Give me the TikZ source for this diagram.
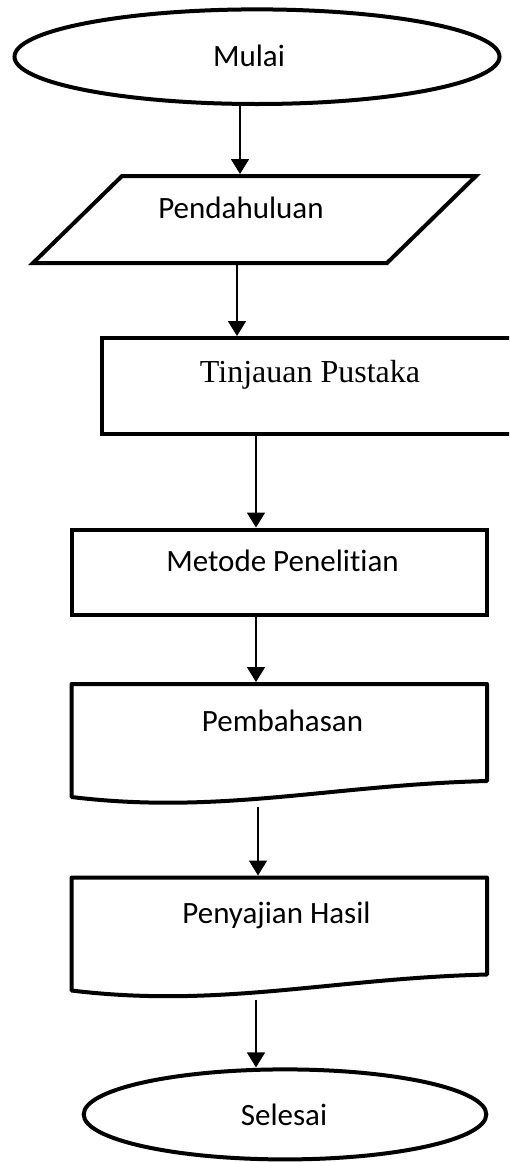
\documentclass[tikz,border=0pt]{standalone}
\usepackage{fontspec}
\setmainfont{Carlito}[Ligatures=NoCommon]
\newfontfamily\timesfont{Liberation Serif}
\usepackage{tikz}
\usetikzlibrary{arrows.meta, shapes.geometric}

\begin{document}
\begin{tikzpicture}[x=1pt, y=-1pt, >={Triangle[length=15pt, width=18pt]},
    term/.style={draw, ellipse, line width=4pt, inner sep=0pt},
    box/.style={draw, rectangle, line width=4pt, inner sep=0pt},
    io/.style={draw, line width=4pt},
    docu/.style={draw, line width=4pt, line join=round},
    flow/.style={->, line width=1.8pt},
    lbl/.style={anchor=base, inner sep=0pt, font=\fontsize{31}{37}\selectfont}]
  \useasboundingbox (0,0) rectangle (509,1162);
  \clip (0,0) rectangle (509,1162);

  % Start
  \node[term, minimum width=485pt, minimum height=94.6pt] (mulai) at (257,56.7) {};
  \node[lbl] (mulai-t) at (249,66) {Mulai};

  % Input
  \draw[io] (122,176) -- (476,176) -- (387,263) -- (33,263) -- cycle;
  \coordinate (pend-in) at (240,174);
  \coordinate (pend-out) at (237,265);
  \node[lbl] (pendahuluan-t) at (241,218) {Pendahuluan};

  % Process boxes
  \node[box, minimum width=438pt, minimum height=95.5pt] (tinjauan) at (321,385.75) {};
  \node[lbl, font=\timesfont\fontsize{32}{38}\selectfont] (tinjauan-t) at (310,382) {Tinjauan Pustaka};

  \node[box, minimum width=415.5pt, minimum height=85pt] (metode) at (279.25,572) {};
  \node[lbl] (metode-t) at (282.5,571) {Metode Penelitian};

  % Documents
  \draw[docu] (71.5,797) -- (71.5,684) -- (487,684) -- (487,781)
    .. controls (330,785) and (220,815) .. (71.5,797) -- cycle;
  \coordinate (bahas-in) at (256,682);
  \coordinate (bahas-out) at (258,807);
  \node[lbl] (pembahasan-t) at (282.5,731) {Pembahasan};

  \draw[docu] (71.5,990.5) -- (71.5,877.5) -- (487,877.5) -- (487,974.5)
    .. controls (330,978.5) and (220,1008.5) .. (71.5,990.5) -- cycle;
  \coordinate (saji-in) at (258,875.5);
  \coordinate (saji-out) at (256,999.5);
  \node[lbl] (penyajian-t) at (276.5,923) {Penyajian Hasil};

  % End
  \node[term, minimum width=402.6pt, minimum height=90pt] (selesai) at (285,1114.4) {};
  \node[lbl] (selesai-t) at (284,1125) {Selesai};

  % Flow
  \draw[flow] (mulai.south -| pend-in) -- (pend-in);
  \draw[flow] (pend-out) -- (tinjauan.north -| pend-out);
  \draw[flow] (tinjauan.south -| 256,0) -- (metode.north -| 256,0);
  \draw[flow] (metode.south -| bahas-in) -- (bahas-in);
  \draw[flow] (bahas-out) -- (saji-in);
  \draw[flow] (saji-out) -- (selesai.north -| saji-out);
\end{tikzpicture}
\end{document}
